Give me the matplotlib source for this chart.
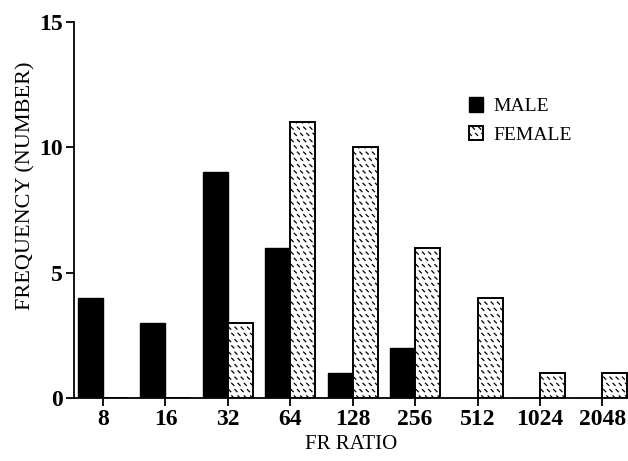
import warnings
warnings.filterwarnings("ignore")
import numpy as np
import matplotlib
matplotlib.use("Agg")
import matplotlib.pyplot as plt
from matplotlib import hatch as mhatch
from matplotlib.path import Path

categories = ["8", "16", "32", "64", "128", "256", "512", "1024", "2048"]
male = [4, 3, 9, 6, 1, 2, 0, 0, 0]
female = [0, 0, 3, 11, 10, 6, 4, 1, 1]


class DashHatch(mhatch.HatchPatternBase):
    """Short staggered back-slash dashes (diamond-plate look)."""
    def __init__(self, hatch, density):
        self.n = 16 if 'd' in hatch else 0
        self.num_vertices = self.n * self.n * 2 if self.n else 0

    def set_vertices_and_codes(self, vertices, codes):
        n = self.n
        step = 1.0 / n
        d = step * 0.17
        k = 0
        for j in range(n):
            for i in range(n):
                cx = (i + 0.5 * (j % 2) + 0.25) * step
                cy = (j + 0.5) * step
                vertices[k] = (cx - d, cy + d)
                vertices[k + 1] = (cx + d, cy - d)
                codes[k] = Path.MOVETO
                codes[k + 1] = Path.LINETO
                k += 2


mhatch._hatch_types.append(DashHatch)

plt.rcParams['font.family'] = ['Liberation Serif', 'DejaVu Serif']
plt.rcParams['hatch.linewidth'] = 0.9
plt.rcParams['hatch.color'] = 'black'

fig = plt.figure(figsize=(6.28, 4.61), dpi=100)
ax = fig.add_axes([74 / 628, 63 / 461, (628 - 74) / 628, (398 - 22) / 461])

x = np.arange(len(categories))
w = 0.4
ax.bar(x, male, width=-w, align='edge', color='black', edgecolor='black',
       linewidth=1.0, label='MALE')
ax.bar(x, female, width=w, align='edge', color='white', edgecolor='black',
       linewidth=1.4, hatch='d', label='FEMALE')

ax.set_xlim(-0.465, 8.41)
ax.set_ylim(0, 15)
ax.set_yticks([0, 5, 10, 15])
ax.set_xticks(x)
ax.set_xticklabels(categories)
for s in ['top', 'right']:
    ax.spines[s].set_visible(False)
for s in ['left', 'bottom']:
    ax.spines[s].set_linewidth(1.3)
ax.tick_params(axis='both', direction='out', length=6, width=1.3,
               labelsize=17, pad=2)
for lbl in ax.get_xticklabels() + ax.get_yticklabels():
    lbl.set_fontweight('bold')

ax.set_xlabel('FR RATIO', fontsize=15)
ax.xaxis.set_label_coords(0.5, (461 - 444 - 63) / 376, transform=ax.transAxes)
ax.xaxis.label.set_va('center')
ax.set_ylabel('FREQUENCY (NUMBER)', fontsize=16)
ax.yaxis.set_label_coords((26 - 74) / 554, (461 - 186 - 63) / 376,
                          transform=ax.transAxes)
ax.yaxis.label.set_va('center')

leg = ax.legend(loc='upper left', bbox_to_anchor=(451 / 628, 1 - 80 / 461),
                bbox_transform=fig.transFigure, frameon=False,
                handlelength=0.75, handleheight=0.75, handletextpad=0.55,
                labelspacing=0.55, fontsize=14)

fig.savefig('out.png', dpi=100)
